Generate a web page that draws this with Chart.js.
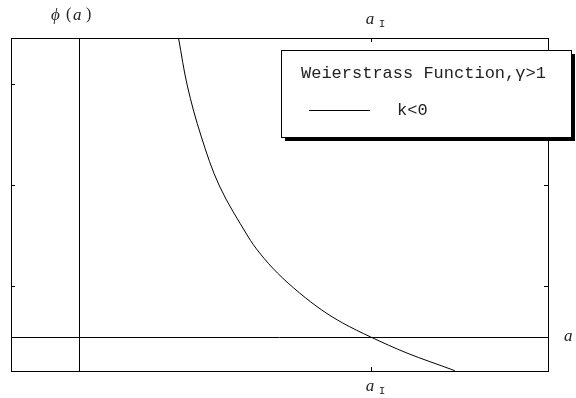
<!DOCTYPE html>
<html>
<head>
<meta charset="utf-8">
<script src="https://cdn.jsdelivr.net/npm/chart.js@4"></script>
<style>
  html, body { margin: 0; padding: 0; background: #fff; }
  #wrap { width: 576px; height: 398px; }
</style>
</head>
<body>
<div id="wrap"><canvas id="myChart" width="576" height="398"></canvas></div>
<script>
// curve phi(a), a measured in units of a_I
var aValues   = [0.341, 0.371, 0.418, 0.481, 0.578, 0.619, 0.680, 0.756, 0.832, 0.904, 1.000, 1.124, 1.282, 1.289];
var phiValues = [5.907, 4.970, 3.980, 2.990, 2.000, 1.663, 1.267, 0.871, 0.535, 0.277, 0.0, -0.317, -0.653, -0.673];
var yTicks = [1, 3, 5];
var xTicks = [1];
var xTickLabel = "a";
var legendTitle = "Weierstrass Function,\u03b3>1";
var seriesName = "k<0";

var points = aValues.map(function (a, i) { return { x: a, y: phiValues[i] }; });

var framePlugin = {
    id: "frame",
    afterDatasetsDraw: function (chart) {
        var ctx = chart.ctx;
        var ca = chart.chartArea;
        var xs = chart.scales.x, ys = chart.scales.y;
        ctx.save();
        ctx.strokeStyle = "#000";
        ctx.lineWidth = 1;
        // axes through zero
        var x0 = Math.round(xs.getPixelForValue(0)) + 0.5;
        var y0 = Math.round(ys.getPixelForValue(0)) + 0.5;
        ctx.beginPath();
        ctx.moveTo(x0, ca.top); ctx.lineTo(x0, ca.bottom);
        ctx.moveTo(ca.left, y0); ctx.lineTo(ca.right, y0);
        ctx.stroke();
        // frame
        ctx.strokeRect(Math.round(ca.left) + 0.5, Math.round(ca.top) + 0.5,
            Math.round(ca.right - ca.left), Math.round(ca.bottom - ca.top));
        // ticks
        ctx.beginPath();
        yTicks.forEach(function (v) {
            var p = Math.round(ys.getPixelForValue(v)) + 0.5;
            ctx.moveTo(ca.left, p); ctx.lineTo(ca.left + 4, p);
            ctx.moveTo(ca.right, p); ctx.lineTo(ca.right - 4, p);
        });
        xTicks.forEach(function (v) {
            var p = Math.round(xs.getPixelForValue(v)) + 0.5;
            ctx.moveTo(p, ca.top); ctx.lineTo(p, ca.top + 4);
            ctx.moveTo(p, ca.bottom); ctx.lineTo(p, ca.bottom - 4);
        });
        ctx.stroke();

        // axis labels
        ctx.fillStyle = "#222";
        ctx.textBaseline = "middle";
        ctx.textAlign = "left";
        xTicks.forEach(function (v) {
            var p = xs.getPixelForValue(v);
            [ca.top - 18, ca.bottom + 16].forEach(function (yy) {
                ctx.font = "italic 17px 'Liberation Serif'";
                ctx.fillText(xTickLabel, p - 5, yy);
                ctx.font = "11px 'Liberation Mono'";
                ctx.fillText("I", p + 8, yy + 4);
            });
        });
        ctx.font = "italic 17px 'Liberation Serif'";
        ctx.fillText("\u03d5", 51, 16);
        ctx.font = "16px 'Liberation Serif'";
        ctx.fillText("(", 66, 15);
        ctx.font = "italic 17px 'Liberation Serif'";
        ctx.fillText("a", 73, 16);
        ctx.font = "16px 'Liberation Serif'";
        ctx.fillText(")", 86, 15);
        ctx.font = "italic 17px 'Liberation Serif'";
        ctx.fillText("a", 564, ys.getPixelForValue(0));

        // legend box with shadow
        var bx = 281, by = 50, bw = 290, bh = 87;
        ctx.fillStyle = "#000";
        ctx.fillRect(bx + 4, by + 4, bw, bh);
        ctx.fillStyle = "#fff";
        ctx.fillRect(bx, by, bw, bh);
        ctx.strokeRect(bx + 0.5, by + 0.5, bw, bh);
        ctx.fillStyle = "#222";
        ctx.font = "17px 'Liberation Mono'";
        ctx.fillText(legendTitle, 301, 73);
        ctx.fillText(seriesName, 397, 110);
        ctx.beginPath();
        ctx.moveTo(309, 110.5); ctx.lineTo(370, 110.5);
        ctx.stroke();
        ctx.restore();
    }
};

new Chart("myChart", {
    type: "scatter",
    data: {
        datasets: [{
            label: seriesName,
            data: points,
            showLine: true,
            borderColor: "#000",
            borderWidth: 1,
            pointRadius: 0,
            tension: 0.35,
            fill: false
        }]
    },
    options: {
        responsive: false,
        animation: false,
        layout: { padding: { left: 11, top: 38, right: 28, bottom: 27 } },
        plugins: { legend: { display: false }, tooltip: { enabled: false } },
        scales: {
            x: { type: "linear", min: -0.234, max: 1.608, display: false },
            y: { type: "linear", min: -0.673, max: 5.92, display: false }
        }
    },
    plugins: [framePlugin]
});
</script>
</body>
</html>
